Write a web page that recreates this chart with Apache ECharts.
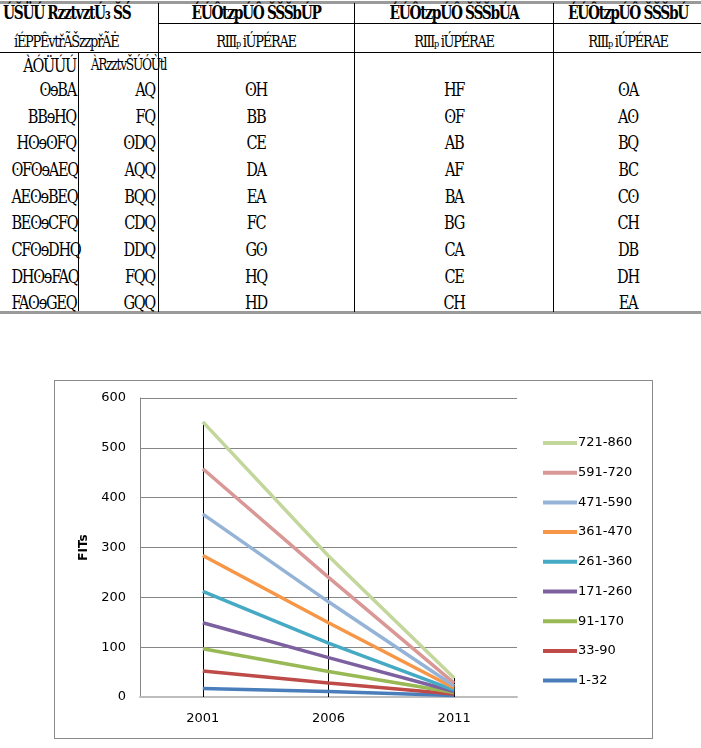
<!DOCTYPE html>
<html>
<head>
<meta charset="utf-8">
<script src="https://cdn.jsdelivr.net/npm/echarts@6/dist/echarts.min.js"></script>
<style>
    body { margin: 0; background: #fff; width: 701px; height: 748px; position: relative; overflow: hidden; }
    .hl { position: absolute; background: #000; height: 1px; }
    .vl { position: absolute; background: #000; width: 1px; }
    .t { position: absolute; font-family: "DejaVu Serif Condensed", "DejaVu Serif", serif; font-size: 19px;
         letter-spacing: -1.5px; line-height: 20px; white-space: nowrap; color: #000; }
    #chart { position: absolute; left: 54px; top: 380px; width: 597px; height: 357px; border: 1px solid #8a8a8a; }
</style>
</head>
<body>
<div id="table"></div>
<div id="chart"></div>
<script>
// table (the source font maps digits onto other glyphs, kept as seen)
const glyphs = { '0': 'Q', '1': 'ʘ', '-': 'ɘ', '2': 'A', '3': 'B', '4': 'C', '5': 'D', '6': 'E', '7': 'F', '8': 'G', '9': 'H' };
const headTop = 'ÚŠÜÚ RzztvztÚ₃ ŠŚ';
const headTop2 = 'íÉPPÊvtřÃŠzzpřÃĖ';
const subHead = ['ÀÓÜÚÚ', 'ÀRzztvŠÚÓÙtl'];
const colHeads = ['ÉÚÔtzpÚÔ ŠŠŠbÚP', 'ÉÚÔtzpÚÔ ŠŠŠbÚA', 'ÉÚÔtzpÚÔ ŠŠŠbÚ'];
const colSub = 'RⅢₚ iÚPÉRAE';
const rangeCol = ['1-32', '33-90', '91-170', '171-260', '261-360', '361-470', '471-590', '591-720', '721-860'];
const limitCol = ['20', '70', '150', '200', '300', '450', '550', '700', '800'];
const colA = ['19', '33', '46', '52', '62', '74', '81', '90', '95'];
const colB = ['97', '17', '23', '27', '32', '38', '42', '46', '49'];
const colC = ['12', '21', '30', '34', '41', '49', '53', '59', '62'];

// chart
const years = ['2001', '2006', '2011'];
const s1_32 = [17, 11, 3];
const s33_90 = [52, 28, 6];
const s91_170 = [97, 51, 9];
const s171_260 = [149, 79, 11];
const s261_360 = [212, 108, 14];
const s361_470 = [284, 149, 18];
const s471_590 = [367, 191, 22];
const s591_720 = [458, 240, 28];
const s721_860 = [552, 283, 38];
const yTicks = [0, 100, 200, 300, 400, 500, 600];

const enc = s => s.split('').map(c => glyphs[c] || c).join('');

const tbl = document.getElementById('table');
function line(cls, x, y, w, h, color) {
    const d = document.createElement('div');
    d.className = cls;
    d.style.left = x + 'px'; d.style.top = y + 'px';
    if (w) d.style.width = w + 'px';
    if (h) d.style.height = h + 'px';
    if (color) d.style.background = color;
    tbl.appendChild(d);
}
function text(str, x, y, align, w, bold, size) {
    const d = document.createElement('div');
    d.className = 't';
    d.textContent = str;
    d.style.top = (y - 11) + 'px';
    if (size) d.style.fontSize = size + 'px';
    d.style.transform = 'scaleX(0.85)';
    if (align === 'right') {
        d.style.left = (x - w) + 'px'; d.style.width = w + 'px'; d.style.textAlign = 'right';
        d.style.transformOrigin = 'right center';
    } else if (align === 'center') {
        d.style.left = (x - w / 2) + 'px'; d.style.width = w + 'px'; d.style.textAlign = 'center';
        d.style.transformOrigin = 'center center';
    } else {
        d.style.left = x + 'px';
        d.style.transformOrigin = 'left center';
    }
    if (bold) d.style.fontWeight = 'bold';
    tbl.appendChild(d);
}

line('hl', 0, 1, 701, 3, '#9a9a9a');
line('hl', 158, 23, 543);
line('hl', 0, 52, 701);
line('hl', 0, 311, 701, 3, '#9a9a9a');
line('vl', 158, 3, null, 309);
line('vl', 78, 52, null, 259);
line('vl', 354, 3, null, 309);
line('vl', 553, 3, null, 309);

text(headTop, 3, 14, 'left', 0, true, 18);
text(headTop2, 14, 42, 'left', 0, false, 17);
text(subHead[0], 76, 66, 'right', 76, false);
text(subHead[1], 157, 66, 'right', 78, false, 16);
const colCenters = [256, 454, 628];
colHeads.forEach((h, i) => {
    text(h, colCenters[i], 14, 'center', 190, true, 18);
    text(colSub, colCenters[i], 42, 'center', 190, false, 17);
});
const rowY = [90, 117, 143, 170, 197, 223, 250, 277, 303];
rangeCol.forEach((v, i) => {
    text(enc(v), 76, rowY[i], 'right', 76, false);
    text(enc(limitCol[i]), 155, rowY[i], 'right', 76, false);
    text(enc(colA[i]), colCenters[0], rowY[i], 'center', 100, false);
    text(enc(colB[i]), colCenters[1], rowY[i], 'center', 100, false);
    text(enc(colC[i]), colCenters[2], rowY[i], 'center', 100, false);
});

const seriesDefs = [
    { name: '1-32', data: s1_32, color: '#4a7ebb' },
    { name: '33-90', data: s33_90, color: '#be4b48' },
    { name: '91-170', data: s91_170, color: '#98b954' },
    { name: '171-260', data: s171_260, color: '#7d60a0' },
    { name: '261-360', data: s261_360, color: '#46aac5' },
    { name: '361-470', data: s361_470, color: '#f79646' },
    { name: '471-590', data: s471_590, color: '#95b3d7' },
    { name: '591-720', data: s591_720, color: '#d99795' },
    { name: '721-860', data: s721_860, color: '#c3d69b' }
];

// drop lines from the axis up to the highest series at each year
const dropLines = years.map((y, i) => {
    const top = Math.max(...seriesDefs.map(s => s.data[i]));
    return [{ coord: [y, 0] }, { coord: [y, top] }];
});

const series = seriesDefs.map((s, idx) => ({
    name: s.name,
    type: 'line',
    data: s.data,
    symbol: 'none',
    smooth: false,
    lineStyle: { color: s.color, width: 3.5 },
    itemStyle: { color: s.color },
    z: 3,
    markLine: idx === 0 ? {
        silent: true,
        symbol: 'none',
        label: { show: false },
        lineStyle: { color: '#000', width: 1, type: 'solid' },
        data: dropLines,
        z: 2
    } : undefined
}));

const chart = echarts.init(document.getElementById('chart'));
chart.setOption({
    animation: false,
    grid: { left: 85, top: 17, width: 377, height: 299, containLabel: false },
    legend: {
        orient: 'vertical',
        left: 483,
        top: 50,
        icon: 'rect',
        itemWidth: 34,
        itemHeight: 4,
        itemGap: 15.7,
        data: seriesDefs.map(s => s.name).reverse(),
        textStyle: { fontFamily: 'DejaVu Sans', fontSize: 13, color: '#000', lineHeight: 14, padding: [0, 0, 0, -4] }
    },
    xAxis: {
        type: 'category',
        data: years,
        boundaryGap: true,
        axisTick: { show: false },
        axisLine: { lineStyle: { color: '#bdbdbd', width: 2 } },
        axisLabel: { fontFamily: 'DejaVu Sans', fontSize: 13, color: '#000', margin: 15 }
    },
    yAxis: {
        type: 'value',
        min: 0,
        max: 600,
        interval: 100,
        name: 'FITs',
        nameLocation: 'middle',
        nameRotate: 90,
        nameGap: 45,
        nameTextStyle: { fontFamily: 'DejaVu Sans', fontSize: 12, fontWeight: 'bold', color: '#000' },
        axisLine: { show: true, lineStyle: { color: '#868686' } },
        axisTick: { show: false },
        splitLine: { lineStyle: { color: '#868686', width: 1 } },
        axisLabel: { fontFamily: 'DejaVu Sans', fontSize: 13, color: '#000', margin: 14,
                     formatter: v => yTicks.includes(v) ? String(v) : '' }
    },
    series: series
});
</script>
</body>
</html>
